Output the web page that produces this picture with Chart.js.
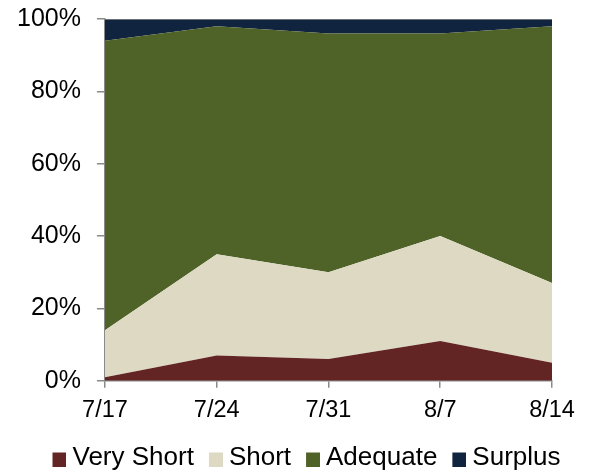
<!DOCTYPE html>
<html>
<head>
<meta charset="utf-8">
<script src="https://cdn.jsdelivr.net/npm/chart.js@4"></script>
<style>
  html, body { margin: 0; padding: 0; background: #fff; }
  #wrap { width: 590px; height: 472px; }
</style>
</head>
<body>
<div id="wrap"><canvas id="c" width="590" height="472"></canvas></div>
<script>
const categories = ['7/17', '7/24', '7/31', '8/7', '8/14'];
const veryShort = [1, 7, 6, 11, 5];
const short = [13, 28, 24, 29, 22];
const adequate = [80, 63, 66, 56, 71];
const surplus = [6, 2, 4, 4, 2];
const yTicks = [0, 20, 40, 60, 80, 100];

const seriesNames = ['Very Short', 'Short', 'Adequate', 'Surplus'];
const seriesColors = ['#632523', '#DDD9C3', '#4F6228', '#10243F'];
const seriesData = [veryShort, short, adequate, surplus];

// legend swatch: 14x14 square placed at the right/bottom of a transparent image
function swatch(color) {
  const c = document.createElement('canvas');
  c.width = 34; c.height = 18;
  const g = c.getContext('2d');
  g.fillStyle = color;
  g.fillRect(20, 4, 14, 14);
  return c;
}

const datasets = seriesData.map((d, i) => ({
  label: seriesNames[i],
  data: d,
  backgroundColor: seriesColors[i],
  borderColor: i === 3 ? '#8a8a8a' : seriesColors[i],
  borderWidth: i === 3 ? 1.5 : 0,
  fill: i === 0 ? 'origin' : '-1',
  pointRadius: 0,
  pointHoverRadius: 0,
  tension: 0
}));

Chart.defaults.font.family = '"Liberation Sans", Arial, sans-serif';
Chart.defaults.color = '#000';

const legendShift = {
  id: 'legendShift',
  afterLayout(chart) {
    const lg = chart.legend;
    if (lg) { lg.left += 4.5; lg.right += 4.5; lg.top += 8.5; lg.bottom += 8.5; }
  }
};

new Chart(document.getElementById('c'), {
  type: 'line',
  data: { labels: categories, datasets },
  options: {
    responsive: false,
    animation: false,
    layout: { padding: { left: 1, right: 0, top: 0, bottom: 0 } },
    plugins: {
      legend: {
        position: 'bottom',
        labels: {
          usePointStyle: true,
          boxWidth: 20,
          boxHeight: 14,
          padding: 2,
          font: { size: 26 },
          generateLabels: (chart) => chart.data.datasets.map((ds, i) => ({
            text: ds.label,
            fillStyle: ds.backgroundColor,
            strokeStyle: ds.backgroundColor,
            pointStyle: swatch(ds.backgroundColor),
            lineWidth: 0,
            datasetIndex: i
          }))
        }
      },
      tooltip: { enabled: false }
    },
    scales: {
      x: {
        offset: false,
        grid: { drawOnChartArea: false, drawTicks: true, tickLength: 7, color: '#8a8a8a', lineWidth: 1.5 },
        border: { display: true, color: '#8a8a8a', width: 1.5 },
        ticks: { font: { size: 23.5 }, padding: 9, maxRotation: 0 }
      },
      y: {
        stacked: true,
        min: 0,
        max: 100,
        afterBuildTicks: (axis) => { axis.ticks = yTicks.map(v => ({ value: v })); },
        grid: { drawOnChartArea: false, drawTicks: true, tickLength: 8, color: '#8a8a8a', lineWidth: 1.5 },
        border: { display: true, color: '#8a8a8a', width: 1.5 },
        ticks: { font: { size: 25, lineHeight: 0.24 }, padding: 16, callback: (v) => v + '%' }
      },
      yRight: {
        position: 'right',
        display: true,
        grid: { display: false, drawTicks: false },
        border: { display: false },
        ticks: { display: false },
        afterFit: (axis) => { axis.width = 38; }
      }
    }
  },
  plugins: [legendShift]
});
</script>
</body>
</html>
